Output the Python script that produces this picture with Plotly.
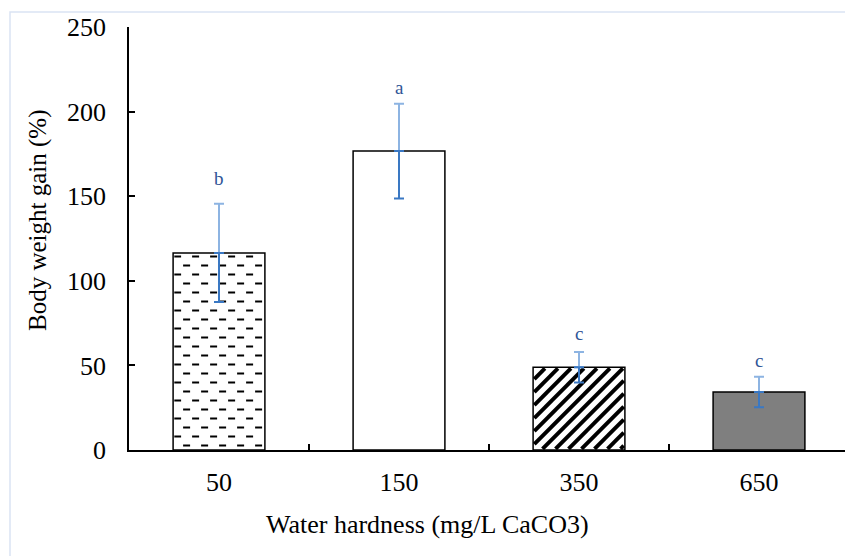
import plotly.graph_objects as go

categories = ["50", "150", "350", "650"]
gain = [116.5, 176.7, 48.9, 34.3]
err = [29.0, 28.0, 9.0, 9.0]
letters = ["b", "a", "c", "c"]
letter_y = [156.6, 210.4, 65.0, 49.0]

xpos = list(range(len(categories)))
bar_w = 0.51
fills = ["white", "white", "white", "#7F7F7F"]

W, H = 845, 556
ml, mr, mt, mb = 129, 0, 27, 106
pw, ph = W - ml - mr, H - mt - mb
PX_X = 180.0            # pixels per category step
PX_Y = ph / 250.0       # pixels per y unit


def px_x(p):
    return (p - ml) / pw


def px_y(p):
    return (H - mb - p) / ph


def diag_hatch(xc, top, period=13.0, inset=1.2):
    """45-degree '/' hatch lines clipped to a bar (computed in pixel space)."""
    left = xc - bar_w / 2
    w = bar_w * PX_X
    h = top * PX_Y
    a, b, c0, d = inset, w - inset, inset, h - inset
    xs, ys = [], []
    c = -h
    while c < w:
        y0 = max(c0, a - c)
        y1 = min(d, b - c)
        if y1 > y0:
            xs += [left + (y0 + c) / PX_X, left + (y1 + c) / PX_X, None]
            ys += [y0 / PX_Y, y1 / PX_Y, None]
        c += period
    return xs, ys


def dash_hatch(xc, top, row=9.0, period=18.0, dash=7.0, start=10.0, inset=1.2):
    """Staggered short horizontal dashes clipped to a bar."""
    left = xc - bar_w / 2
    w = bar_w * PX_X
    h = top * PX_Y
    xs, ys = [], []
    k = 0
    y = 4.5
    while y < h - 3:
        off = (start + (period / 2 if k % 2 else 0)) % period - period
        s = off
        while s < w:
            x0 = max(inset, s)
            x1 = min(w - inset, s + dash)
            if x1 - x0 > 1:
                xs += [left + x0 / PX_X, left + x1 / PX_X, None]
                ys += [y / PX_Y, y / PX_Y, None]
            s += period
        y += row
        k += 1
    return xs, ys


fig = go.Figure()

fig.add_trace(go.Bar(
    x=xpos, y=gain, width=bar_w,
    marker=dict(color=fills, line=dict(color="black", width=1.5)),
    hoverinfo="skip", showlegend=False,
))

dx, dy = dash_hatch(xpos[0], gain[0])
fig.add_trace(go.Scatter(x=dx, y=dy, mode="lines",
                         line=dict(color="black", width=2),
                         hoverinfo="skip", showlegend=False))

hx, hy = diag_hatch(xpos[2], gain[2])
fig.add_trace(go.Scatter(x=hx, y=hy, mode="lines",
                         line=dict(color="black", width=4),
                         hoverinfo="skip", showlegend=False))

# upper (plus) part of error bars, lighter blue
fig.add_trace(go.Scatter(
    x=xpos, y=gain, mode="markers",
    marker=dict(size=1, color="rgba(0,0,0,0)"),
    error_y=dict(type="data", symmetric=False, array=err,
                 arrayminus=[0] * len(err), color="#8DB4E2",
                 thickness=2, width=5),
    hoverinfo="skip", showlegend=False,
))
# lower (minus) part, darker blue
fig.add_trace(go.Scatter(
    x=xpos, y=gain, mode="markers",
    marker=dict(size=1, color="rgba(0,0,0,0)"),
    error_y=dict(type="data", symmetric=False, array=[0] * len(err),
                 arrayminus=err, color="#3A78C3",
                 thickness=2, width=5),
    hoverinfo="skip", showlegend=False,
))

for xi, ly, t in zip(xpos, letter_y, letters):
    fig.add_annotation(x=xi, y=ly, text=t, showarrow=False,
                       yanchor="bottom", yshift=-6,
                       font=dict(family="Liberation Serif", size=19, color="#2F5597"))

# axis titles
fig.add_annotation(xref="paper", yref="paper", x=px_x(38), y=px_y(221),
                   text="Body weight gain (%)", textangle=-90, showarrow=False,
                   xanchor="center", yanchor="middle",
                   font=dict(family="Liberation Serif", size=25, color="black"))
fig.add_annotation(xref="paper", yref="paper", x=px_x(427.5), y=px_y(524),
                   text="Water hardness (mg/L CaCO3)", showarrow=False,
                   xanchor="center", yanchor="middle",
                   font=dict(family="Liberation Serif", size=26, color="black"))

# outer light border
fig.add_shape(type="rect", xref="paper", yref="paper",
              x0=px_x(10), y0=-0.5, x1=1.2, y1=px_y(12),
              line=dict(color="#DAE3F3", width=1.5), layer="below")

fig.update_layout(
    width=W, height=H,
    margin=dict(l=ml, r=mr, t=mt, b=mb),
    paper_bgcolor="white", plot_bgcolor="white",
    showlegend=False,
    xaxis=dict(
        range=[-0.5, -0.5 + pw / PX_X],
        tickvals=xpos, ticktext=categories, ticks="", showgrid=False,
        showline=True, linecolor="black", linewidth=1.5,
        tickfont=dict(family="Liberation Serif", size=26, color="black"),
        ticklabelstandoff=8,
        minor=dict(tickvals=[0.5, 1.5, 2.5], ticks="inside", ticklen=6,
                   tickcolor="black", tickwidth=1.5, showgrid=False),
        zeroline=False,
    ),
    yaxis=dict(
        range=[0, 250], tickvals=[0, 50, 100, 150, 200, 250],
        ticks="inside", ticklen=6, tickcolor="black", tickwidth=1.5,
        showgrid=False, zeroline=False,
        showline=True, linecolor="black", linewidth=1.5,
        tickfont=dict(family="Liberation Serif", size=26, color="black"),
        ticklabelstandoff=16,
    ),
)

fig.write_html(
    "out.html",
    config={"displayModeBar": False},
    post_script="document.body.style.margin='0';document.body.style.overflow='hidden';",
)
